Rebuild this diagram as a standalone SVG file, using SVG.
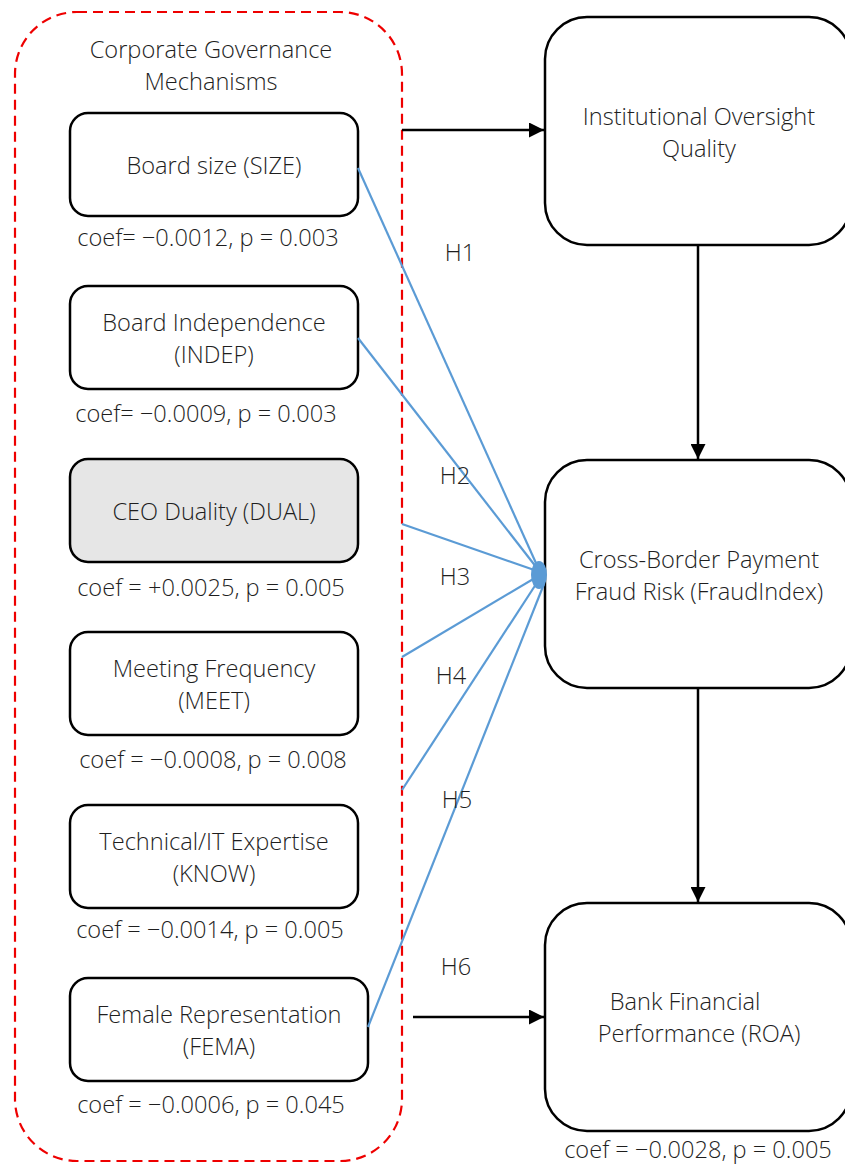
<svg xmlns="http://www.w3.org/2000/svg" width="845" height="1166" viewBox="0 0 845 1166">
<defs>
<style>
text{font-family:"Open Sans","Liberation Sans",sans-serif;font-size:23.6px;font-weight:300;fill:#1e1e1e;text-anchor:middle}
.n{fill:#fff;stroke:#000;stroke-width:2.5}
.g{fill:#e6e6e6}
.a{stroke:#000;stroke-width:2.5;fill:none;marker-end:url(#ah)}
.b{stroke:#5b9bd5;stroke-width:2.2;fill:none}
</style>
<marker id="ah" viewBox="0 0 10 10" refX="10" refY="5" markerWidth="6" markerHeight="6" markerUnits="strokeWidth" orient="auto"><path d="M0,0L10,5L0,10z" fill="#000"/></marker>
</defs>
<rect width="845" height="1166" fill="#fff"/>
<g id="group">
<rect x="15" y="12" width="387" height="1149" rx="62" fill="none" stroke="#ee0000" stroke-width="2.2" stroke-dasharray="10,6"/>
<text x="211" y="58">Corporate Governance</text>
<text x="211" y="90">Mechanisms</text>
</g>
<g id="size"><rect class="n" x="70" y="113" width="288" height="103" rx="18"/><text x="214" y="174">Board size (SIZE)</text><text x="208" y="246">coef= −0.0012, p = 0.003</text></g>
<g id="indep"><rect class="n" x="70" y="286" width="288" height="103" rx="18"/><text x="214" y="331">Board Independence</text><text x="214" y="363">(INDEP)</text><text x="206" y="422">coef= −0.0009, p = 0.003</text></g>
<g id="dual"><rect class="n g" x="70" y="459" width="288" height="103" rx="18"/><text x="214" y="520">CEO Duality (DUAL)</text><text x="211" y="596">coef = +0.0025, p = 0.005</text></g>
<g id="meet"><rect class="n" x="70" y="632" width="288" height="103" rx="18"/><text x="214" y="677">Meeting Frequency</text><text x="214" y="709">(MEET)</text><text x="213" y="768">coef = −0.0008, p = 0.008</text></g>
<g id="know"><rect class="n" x="70" y="805" width="288" height="103" rx="18"/><text x="214" y="850">Technical/IT Expertise</text><text x="214" y="882">(KNOW)</text><text x="210" y="938">coef = −0.0014, p = 0.005</text></g>
<g id="fema"><rect class="n" x="70" y="978" width="298" height="103" rx="18"/><text x="219" y="1023">Female Representation</text><text x="219" y="1055">(FEMA)</text><text x="211" y="1113">coef = −0.0006, p = 0.045</text></g>
<g id="oversight"><rect class="n" x="545" y="17" width="306" height="228" rx="42"/><text x="699" y="125">Institutional Oversight</text><text x="699" y="157">Quality</text></g>
<g id="fraud"><rect class="n" x="545" y="460" width="306" height="228" rx="42"/><text x="699" y="568">Cross-Border Payment</text><text x="699" y="600">Fraud Risk (FraudIndex)</text></g>
<g id="roa"><rect class="n" x="545" y="903" width="306" height="228" rx="42"/><text x="685" y="1010">Bank Financial</text><text x="699" y="1042">Performance (ROA)</text><text x="698" y="1158">coef = −0.0028, p = 0.005</text></g>
<g id="connectors">
<line class="a" x1="402" y1="130" x2="544" y2="130"/>
<line class="a" x1="698" y1="245" x2="698" y2="459"/>
<line class="a" x1="698" y1="688" x2="698" y2="902"/>
<line class="a" x1="413" y1="1017" x2="544" y2="1017"/>
<line class="b" x1="358" y1="168" x2="540" y2="572"/>
<line class="b" x1="358" y1="338" x2="540" y2="572"/>
<line class="b" x1="402" y1="524" x2="540" y2="572"/>
<line class="b" x1="402" y1="657" x2="540" y2="575"/>
<line class="b" x1="402" y1="790" x2="540" y2="578"/>
<line class="b" x1="368" y1="1027" x2="544" y2="584"/>
<ellipse cx="539" cy="575" rx="8" ry="14" fill="#5b9bd5"/>
<text x="460" y="261">H1</text>
<text x="455" y="484">H2</text>
<text x="455" y="585">H3</text>
<text x="451" y="684">H4</text>
<text x="457" y="808">H5</text>
<text x="456" y="975">H6</text>
</g>
</svg>
